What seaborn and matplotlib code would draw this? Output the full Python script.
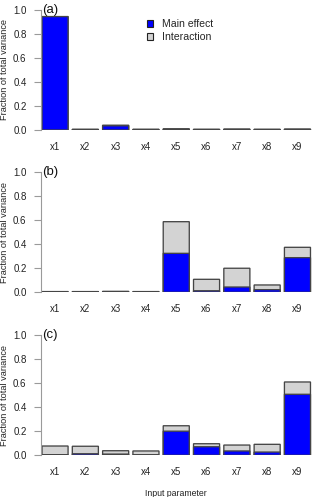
import matplotlib
matplotlib.use("Agg")
import matplotlib.pyplot as plt
import seaborn as sns
import pandas as pd
from matplotlib.patches import Patch

params = ["x1", "x2", "x3", "x4", "x5", "x6", "x7", "x8", "x9"]

main_a = [0.945, 0.004, 0.035, 0.004, 0.007, 0.004, 0.005, 0.004, 0.005]
total_a = [0.945, 0.006, 0.040, 0.006, 0.010, 0.006, 0.008, 0.006, 0.008]

main_b = [0.004, 0.004, 0.005, 0.003, 0.324, 0.013, 0.044, 0.022, 0.288]
total_b = [0.006, 0.006, 0.008, 0.006, 0.587, 0.108, 0.200, 0.061, 0.374]

main_c = [0.004, 0.013, 0.010, 0.002, 0.200, 0.071, 0.036, 0.027, 0.506]
total_c = [0.077, 0.075, 0.038, 0.036, 0.245, 0.096, 0.085, 0.091, 0.608]

panel_labels = ["(a)", "(b)", "(c)"]
yticks = [0.0, 0.2, 0.4, 0.6, 0.8, 1.0]

sns.set_theme(style="white")
plt.rcParams["font.family"] = ["Liberation Sans", "DejaVu Sans"]

W, H = 320, 497
fig = plt.figure(figsize=(W / 100, H / 100), dpi=100)

BLUE = "#0000FF"
GRAY = "#D3D3D3"
EDGE = "#454545"
AXC = "#9a9a9a"

rows = [(10.0, 130.0), (172.0, 292.3), (334.7, 455.3)]
left_px, right_px = 40.5, 312.0

panels = [(main_a, total_a), (main_b, total_b), (main_c, total_c)]

for i, ((mains, totals), (top, bot)) in enumerate(zip(panels, rows)):
    ax = fig.add_axes([left_px / W, (H - bot) / H, (right_px - left_px) / W, (bot - top) / H])
    df = pd.DataFrame({"param": params, "main": mains, "total": totals})
    sns.barplot(data=df, x="param", y="total", color=GRAY, ax=ax, width=0.86,
                edgecolor=EDGE, linewidth=0.95, saturation=1)
    sns.barplot(data=df, x="param", y="main", color=BLUE, ax=ax, width=0.86,
                edgecolor=EDGE, linewidth=0.95, saturation=1)
    for p in ax.patches:
        p.set_snap(False)
    ax.set_xlim(-0.48, 8.48)
    ax.set_ylim(0, 1.0)
    ax.set_yticks(yticks)
    ax.set_yticklabels([f"{t:.1f}" for t in yticks])
    for s in ["top", "right", "bottom"]:
        ax.spines[s].set_visible(False)
    ax.spines["left"].set_color(AXC)
    ax.spines["left"].set_linewidth(0.8)
    ax.tick_params(axis="y", length=5, width=0.8, color=AXC, pad=5,
                   labelsize=7, labelcolor="#222222", left=True)
    ax.tick_params(axis="x", length=0, pad=8.5, labelsize=7, labelcolor="#222222")
    ax.set_xlabel("")
    ax.set_ylabel("")
    ax.grid(False)
    ax.text(-0.44, 1.0, panel_labels[i], ha="left", va="center", fontsize=9.5,
            color="#111111", clip_on=False)
    fig.text(5 / W, (H - (top + bot) / 2) / H, "Fraction of total variance",
             rotation=90, ha="center", va="center", fontsize=6.6, color="#222222")
    if i == 0:
        handles = [Patch(facecolor=BLUE, edgecolor="#222222", linewidth=0.8, label="Main effect"),
                   Patch(facecolor=GRAY, edgecolor="#222222", linewidth=0.8, label="Interaction")]
        ax.legend(handles=handles, loc="upper left", bbox_to_anchor=(0.392, 0.925),
                  frameon=False, fontsize=7.6, handlelength=0.55, handleheight=0.6,
                  handletextpad=0.85, borderpad=0, borderaxespad=0, labelspacing=0.3)

fig.text(176 / W, (H - 493) / H, "Input parameter", ha="center", va="center",
         fontsize=6.3, color="#222222")

fig.savefig("out.png", dpi=100)
